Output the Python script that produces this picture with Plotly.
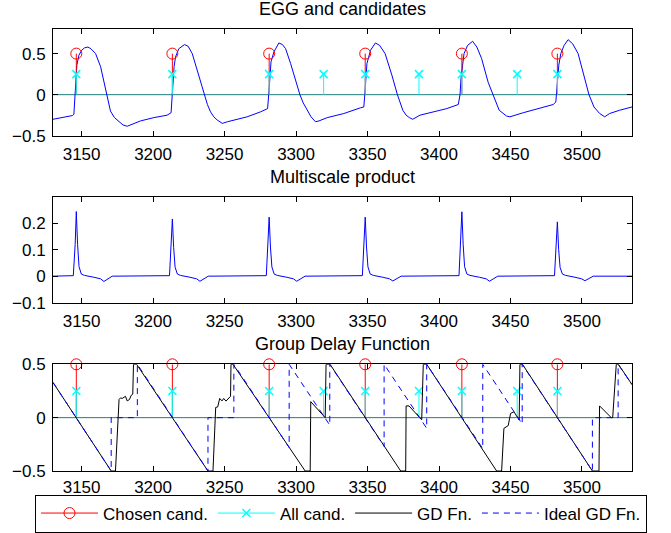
import plotly.graph_objects as go

# ---------------- data ----------------
X_RANGE = [3130, 3535]
x_ticks = [3150, 3200, 3250, 3300, 3350, 3400, 3450, 3500]

chosen_x = [3146.3, 3213.5, 3281.2, 3348.4, 3416.0, 3482.8]
chosen_y = [0.5, 0.5, 0.5, 0.5, 0.5, 0.5]
all_x = [3146.3, 3213.5, 3281.2, 3319.3, 3348.4, 3386.0, 3416.0, 3454.7, 3482.8]
all_y = [0.25, 0.25, 0.25, 0.25, 0.25, 0.25, 0.25, 0.25, 0.25]

egg_x = [3130, 3135, 3140, 3143.5, 3144.6,
         3145.3, 3146.0, 3146.7, 3148.1, 3150.0, 3152.0, 3154.4, 3156.5, 3159.8, 3163.3, 3165.5,
         3167.5, 3170.2, 3173.0, 3176.1, 3179.0, 3181.9, 3185.4, 3191.2, 3200.5, 3209.8, 3212.6,
         3213.3, 3214.0, 3214.7, 3215.7, 3218.0, 3222.0, 3224.5, 3227.4, 3230.9, 3233.5, 3236.0,
         3238.0, 3240.2, 3242.5, 3244.9, 3248.4, 3252.0, 3256.5, 3265.8, 3275.1, 3280.1,
         3280.9, 3281.6, 3282.5, 3284.5, 3288.0, 3290.5, 3292.7, 3296.2, 3299.5, 3302.7, 3305.0,
         3307.8, 3310.5, 3313.6, 3316.0, 3321.8, 3333.4, 3345.1, 3347.4,
         3348.1, 3348.8, 3349.6, 3352.1, 3355.5, 3358.5, 3362.3, 3367.0, 3370.9, 3374.7, 3377.0,
         3379.3, 3381.6, 3386.7, 3396.0, 3405.4, 3413.5,
         3414.7, 3415.4, 3416.1, 3417.5, 3420.0, 3423.5, 3426.5, 3429.8, 3434.4, 3437.9, 3442.1,
         3447.2, 3449.6, 3458.9, 3470.5, 3479.9, 3481.7,
         3482.3, 3483.0, 3483.8, 3485.2, 3487.5, 3490.3, 3493.5, 3497.3, 3501.2, 3504.9, 3508.4,
         3512.4, 3515.9, 3519.3, 3526.3, 3535]
egg_y = [-0.30, -0.285, -0.27, -0.255, -0.24,
         -0.05, 0.20, 0.36, 0.48, 0.54, 0.57, 0.58, 0.56, 0.50, 0.34, 0.16,
         0.0, -0.20, -0.28, -0.33, -0.37, -0.385, -0.36, -0.32, -0.28, -0.25, -0.22,
         -0.05, 0.20, 0.34, 0.46, 0.56, 0.61, 0.59, 0.50, 0.30, 0.14, 0.0,
         -0.12, -0.21, -0.27, -0.31, -0.35, -0.33, -0.31, -0.27, -0.21, -0.17,
         0.0, 0.25, 0.40, 0.52, 0.63, 0.61, 0.56, 0.38, 0.18, 0.0, -0.10,
         -0.19, -0.27, -0.33, -0.32, -0.28, -0.23, -0.16, -0.15,
         0.0, 0.25, 0.38, 0.54, 0.63, 0.60, 0.50, 0.24, 0.0, -0.19, -0.25,
         -0.28, -0.30, -0.25, -0.21, -0.17, -0.12,
         0.0, 0.20, 0.33, 0.50, 0.60, 0.65, 0.58, 0.44, 0.15, 0.0, -0.19,
         -0.26, -0.27, -0.22, -0.17, -0.12, -0.09,
         0.05, 0.25, 0.36, 0.50, 0.60, 0.67, 0.62, 0.50, 0.24, 0.0, -0.15,
         -0.23, -0.27, -0.23, -0.19, -0.15]

ms_x = [3130,
        3144.2, 3145.5, 3146.3, 3147.2, 3148.2, 3149.8, 3152.0, 3158.6, 3163.3, 3165.6, 3168.0, 3171.4,
        3211.5, 3212.7, 3213.5, 3214.4, 3215.4, 3217.0, 3219.2, 3225.8, 3230.5, 3232.8, 3235.2, 3238.6,
        3279.2, 3280.4, 3281.2, 3282.1, 3283.1, 3284.7, 3286.9, 3293.5, 3298.2, 3300.5, 3302.9, 3306.3,
        3346.4, 3347.6, 3348.4, 3349.3, 3350.3, 3351.9, 3354.1, 3360.7, 3365.4, 3367.7, 3370.1, 3373.5,
        3414.0, 3415.2, 3416.0, 3416.9, 3417.9, 3419.5, 3421.7, 3428.3, 3433.0, 3435.3, 3437.7, 3441.1,
        3480.8, 3482.0, 3482.8, 3483.7, 3484.7, 3486.3, 3488.5, 3495.1, 3499.8, 3502.1, 3504.5, 3507.9,
        3535]
ms_y = [0.0,
        0.002, 0.12, 0.244, 0.12, 0.036, 0.008, 0.003, -0.004, -0.010, -0.020, -0.012, 0.0,
        0.002, 0.108, 0.216, 0.108, 0.034, 0.008, 0.003, -0.004, -0.010, -0.019, -0.012, 0.0,
        0.002, 0.11, 0.223, 0.11, 0.035, 0.008, 0.003, -0.004, -0.010, -0.019, -0.012, 0.0,
        0.002, 0.11, 0.223, 0.11, 0.035, 0.008, 0.003, -0.004, -0.010, -0.018, -0.011, 0.0,
        0.002, 0.12, 0.243, 0.12, 0.036, 0.008, 0.003, -0.004, -0.010, -0.019, -0.012, 0.0,
        0.002, 0.10, 0.205, 0.10, 0.033, 0.008, 0.003, -0.004, -0.010, -0.017, -0.010, 0.0,
        0.0]

gd_x = [3130, 3170.7, 3173.7, 3176.2, 3177.2, 3178.4, 3180.7, 3181.9, 3183.5, 3184.7, 3185.8,
        3186.3, 3188.5, 3238.4, 3241.9, 3243.8, 3245.2, 3246.6, 3248.2, 3249.4, 3251.0, 3252.9,
        3254.2, 3254.5, 3255.9, 3306.4, 3309.9, 3310.3, 3320.4, 3321.0, 3323.8, 3373.2, 3376.7,
        3377.0, 3379.0, 3387.9, 3389.0, 3391.4, 3440.3, 3443.8, 3445.4, 3448.4, 3450.1, 3452.4,
        3456.1, 3456.6, 3458.4, 3507.3, 3511.9, 3512.3, 3520.5, 3521.5, 3524.0, 3525.5, 3535]
gd_y = [0.33, -0.5, -0.5, 0.17, 0.185, 0.18, 0.20, 0.157, 0.17, 0.21, 0.22,
        0.5, 0.5, -0.5, -0.5, 0.096, 0.10, 0.18, 0.157, 0.18, 0.155, 0.18,
        0.20, 0.5, 0.5, -0.5, -0.5, 0.15, 0.0, 0.5, 0.5, -0.5, -0.5,
        0.11, 0.11, -0.02, 0.5, 0.5, -0.5, -0.5, -0.10, -0.075, 0.04, 0.055,
        -0.022, 0.5, 0.5, -0.5, -0.5, 0.11, 0.0, 0.0, 0.5, 0.5, 0.31]

ideal_x = [3130, 3170.7, 3170.7, 3189.0, 3189.0, 3238.4, 3238.4, 3256.5, 3256.5, 3295.2,
           3295.2, 3323.6, 3323.6, 3361.6, 3361.6, 3391.4, 3391.4, 3430.6, 3430.6, 3458.2,
           3458.2, 3507.3, 3507.3, 3525.3, 3525.3, 3535]
ideal_y = [0.33, -0.5, 0.0, 0.0, 0.5, -0.5, 0.0, 0.0, 0.5, -0.28,
           0.5, -0.07, 0.5, -0.27, 0.5, -0.10, 0.5, -0.29, 0.5, -0.06,
           0.5, -0.5, 0.0, 0.0, 0.5, 0.31]

titles = ["EGG and candidates", "Multiscale product", "Group Delay Function"]
y_ranges = [[-0.5, 0.8], [-0.1, 0.3], [-0.5, 0.5]]
y_ticks = [[-0.5, 0, 0.5], [-0.1, 0, 0.1, 0.2], [-0.5, 0, 0.5]]
domains = [[0.7586, 1.0], [0.3808, 0.6206], [0.0, 0.2414]]

# ---------------- styles ----------------
FONT = "Liberation Sans, Arial, sans-serif"
BLUE = "#0000ff"
RED = "#ff0000"
CYAN = "#00ffff"
BASE = "#1f7f7f"


def stems(xs, ys):
    sx, sy = [], []
    for xv, yv in zip(xs, ys):
        sx += [xv, xv, None]
        sy += [0, yv, None]
    return sx, sy


fig = go.Figure()


def add_stems(xa, ya):
    sx, sy = stems(chosen_x, chosen_y)
    fig.add_trace(go.Scatter(x=sx, y=sy, mode="lines", line=dict(color=RED, width=1),
                             showlegend=False, hoverinfo="skip", xaxis=xa, yaxis=ya))
    fig.add_trace(go.Scatter(x=chosen_x, y=chosen_y, mode="markers", cliponaxis=False,
                             marker=dict(symbol="circle-open", size=11, color=RED, line=dict(width=1)),
                             showlegend=False, xaxis=xa, yaxis=ya))
    sx, sy = stems(all_x, all_y)
    fig.add_trace(go.Scatter(x=sx, y=sy, mode="lines", line=dict(color=CYAN, width=1),
                             showlegend=False, hoverinfo="skip", xaxis=xa, yaxis=ya))
    fig.add_trace(go.Scatter(x=all_x, y=all_y, mode="markers", cliponaxis=False,
                             marker=dict(symbol="x-thin-open", size=8, color=CYAN,
                                         line=dict(width=1.5, color=CYAN)),
                             showlegend=False, xaxis=xa, yaxis=ya))


# top panel
fig.add_trace(go.Scatter(x=egg_x, y=egg_y, mode="lines", line=dict(color=BLUE, width=1),
                         showlegend=False, xaxis="x", yaxis="y"))
add_stems("x", "y")

# middle panel
fig.add_trace(go.Scatter(x=ms_x, y=ms_y, mode="lines", line=dict(color=BLUE, width=1),
                         showlegend=False, xaxis="x2", yaxis="y2"))

# bottom panel
add_stems("x3", "y3")
fig.add_trace(go.Scatter(x=gd_x, y=gd_y, mode="lines", line=dict(color="black", width=1),
                         showlegend=False, xaxis="x3", yaxis="y3"))
fig.add_trace(go.Scatter(x=ideal_x, y=ideal_y, mode="lines",
                         line=dict(color=BLUE, width=1, dash="6px,5px"),
                         showlegend=False, xaxis="x3", yaxis="y3"))

# legend entries
fig.add_trace(go.Scatter(x=[None], y=[None], mode="lines+markers", name="Chosen cand.",
                         line=dict(color=RED, width=1),
                         marker=dict(symbol="circle-open", size=11, color=RED, line=dict(width=1)),
                         xaxis="x3", yaxis="y3"))
fig.add_trace(go.Scatter(x=[None], y=[None], mode="lines+markers", name="All cand.",
                         line=dict(color=CYAN, width=1),
                         marker=dict(symbol="x-thin-open", size=8, color=CYAN,
                                     line=dict(width=1.5, color=CYAN)),
                         xaxis="x3", yaxis="y3"))
fig.add_trace(go.Scatter(x=[None], y=[None], mode="lines", name="GD Fn.",
                         line=dict(color="black", width=1), xaxis="x3", yaxis="y3"))
fig.add_trace(go.Scatter(x=[None], y=[None], mode="lines", name="Ideal GD Fn.",
                         line=dict(color=BLUE, width=1, dash="6px,5px"), xaxis="x3", yaxis="y3"))

layout = dict(
    width=671, height=533,
    margin=dict(l=53, r=39, t=29, b=62, autoexpand=False),
    paper_bgcolor="white", plot_bgcolor="white",
    font=dict(family=FONT, size=17, color="black"),
    showlegend=True,
    legend=dict(orientation="h", x=(35 - 53) / 579, xanchor="left",
                y=-(532.5 - 471) / 442, yanchor="bottom",
                bordercolor="black", borderwidth=1, bgcolor="rgba(255,255,255,0)",
                font=dict(size=17), itemwidth=57, traceorder="normal"),
    annotations=[],
    shapes=[],
)

for i in range(3):
    xs = "" if i == 0 else str(i + 1)
    layout["xaxis" + xs] = dict(
        domain=[0, 1], anchor="y" + xs, range=X_RANGE, tickvals=x_ticks,
        ticks="inside", ticklen=5, tickwidth=1, tickcolor="black",
        showline=True, linecolor="black", linewidth=1, mirror="ticks",
        showgrid=False, zeroline=False, tickfont=dict(size=17),
        ticklabelstandoff=1 if i == 2 else 3,
        automargin=False,
    )
    layout["yaxis" + xs] = dict(
        domain=domains[i], anchor="x" + xs, range=y_ranges[i], tickvals=y_ticks[i],
        ticks="inside", ticklen=5, tickwidth=1, tickcolor="black",
        showline=True, linecolor="black", linewidth=1, mirror="ticks",
        showgrid=False, zeroline=False, tickfont=dict(size=17), ticklabelstandoff=3,
        automargin=False,
    )
    layout["annotations"].append(dict(
        text=titles[i], x=0.5, xref="paper", y=domains[i][1], yref="paper",
        xanchor="center", yanchor="middle", yshift=20, showarrow=False,
        font=dict(size=18, family=FONT, color="black")))

# stem baselines (top and bottom panels)
for xs in ["", "3"]:
    layout["shapes"].append(dict(type="line", xref="x" + xs + " domain", x0=0, x1=1,
                                 yref="y" + xs, y0=0, y1=0, layer="below",
                                 line=dict(color=BASE, width=1)))

fig.update_layout(**layout)
fig.write_html("out.html")
